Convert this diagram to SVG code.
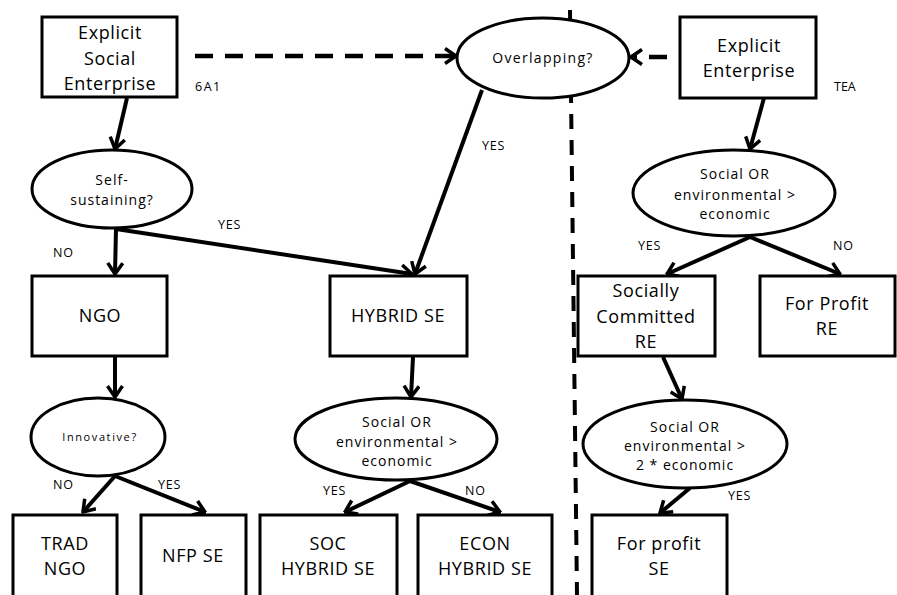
<svg xmlns="http://www.w3.org/2000/svg" width="897" height="595" viewBox="0 0 897 595">
<defs>
<style>
.box{fill:#fff;stroke:#000;stroke-width:3}
.ell{fill:#fff;stroke:#000;stroke-width:3}
.bt{font-family:"Open Sans","Liberation Sans",sans-serif;font-size:18px;text-anchor:middle;fill:#000;letter-spacing:0.6px}
.et{font-family:"Open Sans","Liberation Sans",sans-serif;font-size:14px;text-anchor:middle;fill:#000;letter-spacing:1px}
.lb{font-family:"Open Sans","Liberation Sans",sans-serif;font-size:12.5px;fill:#000;letter-spacing:0.8px}
.ar{fill:none;stroke:#000;stroke-width:4;marker-end:url(#ah)}
.da{fill:none;stroke:#000;stroke-width:4.5;stroke-dasharray:18 12;marker-end:url(#ah)}
.vd{fill:none;stroke:#000;stroke-width:4;stroke-dasharray:15 11}
</style>
<marker id="ah" markerUnits="userSpaceOnUse" viewBox="0 0 14 18" markerWidth="14" markerHeight="18" refX="12.5" refY="9" orient="auto">
<path d="M1.5,1.5 L12.5,9 L1.5,16.5" fill="none" stroke="#000" stroke-width="3.5" stroke-linejoin="miter"/>
</marker>
</defs>

<g id="connectors">
<line class="vd" x1="570" y1="10" x2="577" y2="595"/>
<line class="da" x1="195" y1="56" x2="456" y2="56"/>
<line class="da" x1="697" y1="57" x2="631" y2="57"/>
<line class="ar" x1="127" y1="98" x2="115" y2="149"/>
<line class="ar" x1="116" y1="229" x2="115" y2="274"/>
<line class="ar" x1="116" y1="229" x2="412" y2="274"/>
<line class="ar" x1="482" y1="90" x2="415" y2="274"/>
<line class="ar" x1="764" y1="98" x2="750" y2="149"/>
<line class="ar" x1="750" y1="237" x2="667" y2="274"/>
<line class="ar" x1="750" y1="237" x2="840" y2="274"/>
<line class="ar" x1="663" y1="357" x2="682" y2="399"/>
<line class="ar" x1="690" y1="488" x2="660" y2="513"/>
<line class="ar" x1="115" y1="357" x2="115" y2="397"/>
<line class="ar" x1="115" y1="476" x2="83" y2="512"/>
<line class="ar" x1="115" y1="476" x2="205" y2="512"/>
<line class="ar" x1="413" y1="357" x2="411" y2="397"/>
<line class="ar" x1="410" y1="481" x2="345" y2="512"/>
<line class="ar" x1="410" y1="481" x2="500" y2="512"/>
</g>

<g id="ese">
<rect class="box" x="42" y="17" width="135" height="80"/>
<text class="bt" x="110" y="39">Explicit</text>
<text class="bt" x="110" y="65">Social</text>
<text class="bt" x="110" y="90">Enterprise</text>
</g>
<g id="label-6a1"><text class="lb" x="195" y="91" style="letter-spacing:1.5px">6A1</text></g>

<g id="overlapping">
<ellipse class="ell" cx="543" cy="58" rx="86" ry="40"/>
<text class="et" x="543" y="63" style="letter-spacing:1.3px">Overlapping?</text>
</g>

<g id="ee">
<rect class="box" x="680" y="17" width="136" height="81"/>
<text class="bt" x="749" y="52">Explicit</text>
<text class="bt" x="749" y="77">Enterprise</text>
</g>
<g id="label-tea"><text class="lb" x="834" y="91" style="letter-spacing:0">TEA</text></g>

<g id="self">
<ellipse class="ell" cx="112" cy="189" rx="80" ry="39"/>
<text class="et" x="112" y="185">Self-</text>
<text class="et" x="112" y="205">sustaining?</text>
</g>

<g id="ngo">
<rect class="box" x="32" y="276" width="135" height="80"/>
<text class="bt" x="100" y="322">NGO</text>
</g>

<g id="hybrid">
<rect class="box" x="330" y="276" width="137" height="80"/>
<text class="bt" x="398" y="322">HYBRID SE</text>
</g>

<g id="social-right">
<ellipse class="ell" cx="734" cy="193" rx="101" ry="43"/>
<text class="et" x="735" y="179">Social OR</text>
<text class="et" x="735" y="200">environmental &gt;</text>
<text class="et" x="735" y="219">economic</text>
</g>

<g id="socially-committed">
<rect class="box" x="578" y="276" width="137" height="80"/>
<text class="bt" x="646" y="297">Socially</text>
<text class="bt" x="646" y="323">Committed</text>
<text class="bt" x="646" y="348">RE</text>
</g>

<g id="forprofit-re">
<rect class="box" x="760" y="276" width="135" height="80"/>
<text class="bt" x="827" y="310">For Profit</text>
<text class="bt" x="827" y="335">RE</text>
</g>

<g id="social-bottom-right">
<ellipse class="ell" cx="685" cy="444" rx="102" ry="44"/>
<text class="et" x="685" y="432">Social OR</text>
<text class="et" x="685" y="451">environmental &gt;</text>
<text class="et" x="685" y="470">2 * economic</text>
</g>

<g id="forprofit-se">
<rect class="box" x="592" y="515" width="135" height="82"/>
<text class="bt" x="659" y="550">For profit</text>
<text class="bt" x="659" y="575">SE</text>
</g>

<g id="innovative">
<ellipse class="ell" cx="98" cy="437" rx="67" ry="39"/>
<text class="et" x="100" y="441" style="font-size:11px;letter-spacing:1.6px">Innovative?</text>
</g>

<g id="social-mid">
<ellipse class="ell" cx="396" cy="439" rx="101" ry="41"/>
<text class="et" x="397" y="427">Social OR</text>
<text class="et" x="397" y="447">environmental &gt;</text>
<text class="et" x="397" y="466">economic</text>
</g>

<g id="trad-ngo">
<rect class="box" x="13" y="515" width="104" height="82"/>
<text class="bt" x="65" y="550">TRAD</text>
<text class="bt" x="65" y="575">NGO</text>
</g>

<g id="nfp-se">
<rect class="box" x="141" y="515" width="105" height="82"/>
<text class="bt" x="193" y="562">NFP SE</text>
</g>

<g id="soc-hybrid">
<rect class="box" x="260" y="515" width="137" height="82"/>
<text class="bt" x="328" y="550">SOC</text>
<text class="bt" x="328" y="575">HYBRID SE</text>
</g>

<g id="econ-hybrid">
<rect class="box" x="418" y="515" width="134" height="82"/>
<text class="bt" x="485" y="550">ECON</text>
<text class="bt" x="485" y="575">HYBRID SE</text>
</g>

<g id="labels">
<text class="lb" x="218" y="229">YES</text>
<text class="lb" x="53" y="257">NO</text>
<text class="lb" x="482" y="150">YES</text>
<text class="lb" x="638" y="250">YES</text>
<text class="lb" x="833" y="250">NO</text>
<text class="lb" x="728" y="500">YES</text>
<text class="lb" x="53" y="489">NO</text>
<text class="lb" x="158" y="489">YES</text>
<text class="lb" x="323" y="495">YES</text>
<text class="lb" x="465" y="495">NO</text>
</g>
</svg>
